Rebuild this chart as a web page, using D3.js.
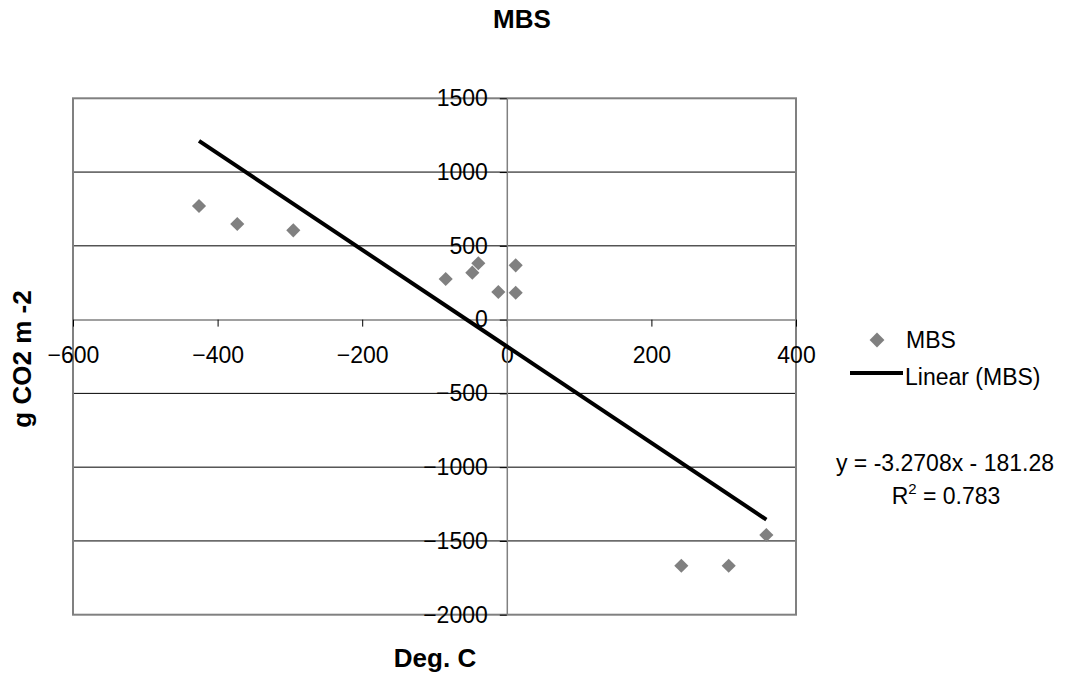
<!DOCTYPE html>
<html><head><meta charset="utf-8">
<script src="https://cdn.jsdelivr.net/npm/d3@7"></script>
<style>
html,body{margin:0;padding:0;background:#fff;}
text{font-family:"Liberation Sans",Arial,sans-serif;}
</style></head>
<body><svg id="c" width="1066" height="675"></svg>
<script>
// Data
const tempX = [-425.7, -372.8, -295.3, -84.5, -47.7, -39.4, -11.7, 12.3, 12.3, 241.4, 306.9, 359.0];
const fluxY = [770, 648, 605, 275, 318, 382, 187, 368, 182, -1668, -1668, -1460];
const xTicks = [-600, -400, -200, 0, 200, 400];
const yTicks = [1500, 1000, 500, 0, -500, -1000, -1500, -2000];
const trendSlope = -3.2708;
const trendIntercept = -181.28;
const rSquared = 0.783;
const seriesName = "MBS";

const svg = d3.select("#c");
const x = d3.scaleLinear().domain([-600, 400]).range([73, 796]);
const y = d3.scaleLinear().domain([-2000, 1500]).range([614.7, 98.3]);

// gridlines
svg.append("g").selectAll("line").data(yTicks.filter(v => v !== 0 && v !== 1500 && v !== -2000))
  .join("line")
  .attr("x1", x(-600)).attr("x2", x(400))
  .attr("y1", d => y(d)).attr("y2", d => y(d))
  .attr("stroke", "#000").attr("stroke-width", 1);

// plot border
svg.append("rect")
  .attr("x", x(-600)).attr("y", y(1500))
  .attr("width", x(400) - x(-600)).attr("height", y(-2000) - y(1500))
  .attr("fill", "none").attr("stroke", "#808080").attr("stroke-width", 2);

// axes
const fs = 23;
const xAxis = d3.axisBottom(x).tickValues(xTicks).tickSizeInner(7).tickSizeOuter(0).tickPadding(20).tickFormat(d3.format("d"));
const gx = svg.append("g").attr("transform", `translate(0,${y(0)})`).call(xAxis);
gx.select(".domain").attr("stroke", "#808080").attr("stroke-width", 1.5);
gx.selectAll(".tick line").attr("stroke", "#000").attr("stroke-width", 1);
gx.selectAll(".tick text").attr("font-size", fs).attr("fill", "#000").style("font-family", '"Liberation Sans",Arial,sans-serif');

const yAxis = d3.axisLeft(y).tickValues(yTicks).tickSizeInner(7).tickSizeOuter(0).tickPadding(12).tickFormat(d3.format("d"));
const gy = svg.append("g").attr("transform", `translate(${x(0)},0)`).call(yAxis);
gy.select(".domain").attr("stroke", "#808080").attr("stroke-width", 1.5);
gy.selectAll(".tick line").attr("stroke", "#000").attr("stroke-width", 1);
gy.selectAll(".tick text").attr("font-size", fs).attr("fill", "#000").style("font-family", '"Liberation Sans",Arial,sans-serif');

// points
const pts = tempX.map((v, i) => ({x: v, y: fluxY[i]}));
const diamond = d3.symbol().type(d3.symbolSquare).size(100);
svg.append("g").selectAll("path").data(pts).join("path")
  .attr("d", diamond)
  .attr("transform", d => `translate(${x(d.x)},${y(d.y)}) rotate(45)`)
  .attr("fill", "#808080");

// trendline
const xr = d3.extent(tempX);
svg.append("line")
  .attr("x1", x(xr[0])).attr("y1", y(trendSlope * xr[0] + trendIntercept))
  .attr("x2", x(xr[1])).attr("y2", y(trendSlope * xr[1] + trendIntercept))
  .attr("stroke", "#000").attr("stroke-width", 4);

// title
svg.append("text").attr("x", 522).attr("y", 28).attr("text-anchor", "middle")
  .attr("font-size", 26).attr("font-weight", "bold").text(seriesName);
svg.append("text").attr("x", 435).attr("y", 667).attr("text-anchor", "middle")
  .attr("font-size", 26).attr("font-weight", "bold").text("Deg. C");
svg.append("text").attr("transform", "translate(31,359) rotate(-90)").attr("text-anchor", "middle")
  .attr("font-size", 26).attr("font-weight", "bold").text("g CO2 m -2");

// legend
svg.append("path").attr("d", d3.symbol().type(d3.symbolSquare).size(110))
  .attr("transform", "translate(877,340) rotate(45)").attr("fill", "#808080");
svg.append("text").attr("x", 906).attr("y", 348).attr("font-size", fs).text(seriesName);
svg.append("line").attr("x1", 850).attr("x2", 903).attr("y1", 373).attr("y2", 373)
  .attr("stroke", "#000").attr("stroke-width", 4);
svg.append("text").attr("x", 905).attr("y", 385).attr("font-size", fs).text(`Linear (${seriesName})`);

// equation
const fmtI = Math.abs(trendIntercept);
svg.append("text").attr("x", 945).attr("y", 471).attr("text-anchor", "middle").attr("font-size", fs)
  .text(`y = ${trendSlope}x ${trendIntercept < 0 ? "-" : "+"} ${fmtI}`);
const r2 = svg.append("text").attr("x", 946).attr("y", 504).attr("text-anchor", "middle").attr("font-size", fs);
r2.append("tspan").text("R");
r2.append("tspan").attr("font-size", 15).attr("dy", -10).text("2");
r2.append("tspan").attr("dy", 10).text(` = ${rSquared}`);
</script></body></html>
